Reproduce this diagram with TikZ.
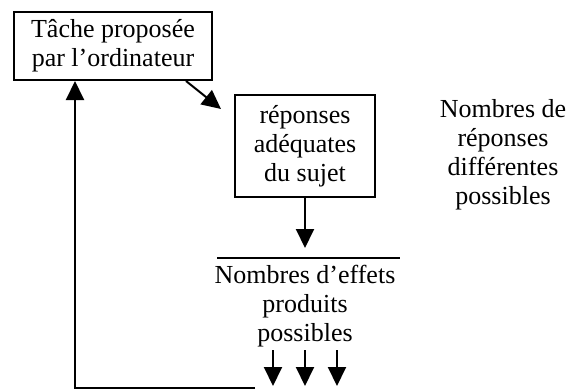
\documentclass[tikz,border=0pt]{standalone}
\usepackage{fontspec}
\setmainfont{Liberation Serif}
\usetikzlibrary{arrows.meta,positioning}

\begin{document}
\begin{tikzpicture}[
        x=1pt, y=-1pt,
        every node/.style={align=center, font=\fontsize{26}{29}\selectfont},
        every path/.style={line width=2pt},
        >={Triangle[length=19pt,width=18pt]},
        tache/.style={draw, minimum width=198pt, minimum height=68pt, inner sep=2pt},
        reponse/.style={draw, minimum width=140pt, minimum height=102pt, inner sep=2pt}
    ]
    \useasboundingbox (0,0) rectangle (574,391);

    % Nodes
    \node (tache)[tache] at (113,46) {T\^ache propos\'ee \\ par l'ordinateur};
    \node (reponses)[reponse] at (305,146) {r\'eponses \\ ad\'equates \\ du sujet};
    \node (differentes) at (503,155) {Nombres de \\ r\'eponses \\ diff\'erentes \\ possibles};
    \node (effets) at (305,306) {Nombres d'effets \\ produits \\ possibles};

    \coordinate (barreG) at (217,258);
    \coordinate (barreD) at (400,258);
    \coordinate (retour) at (255,388);

    % Edges
    \draw (barreG) -- (barreD);
    \draw[->] ([xshift=-27pt]tache.south east) -- ([shift={(-13,15)}]reponses.north west);
    \draw[->] (reponses.south) -- ([yshift=10pt]reponses.south |- barreG);
    \foreach \x in {273,305,337}
        \draw[->] (\x,350) -- (\x,386);
    \draw[->] (retour) -| ([xshift=-38pt]tache.south);

\end{tikzpicture}
\end{document}
